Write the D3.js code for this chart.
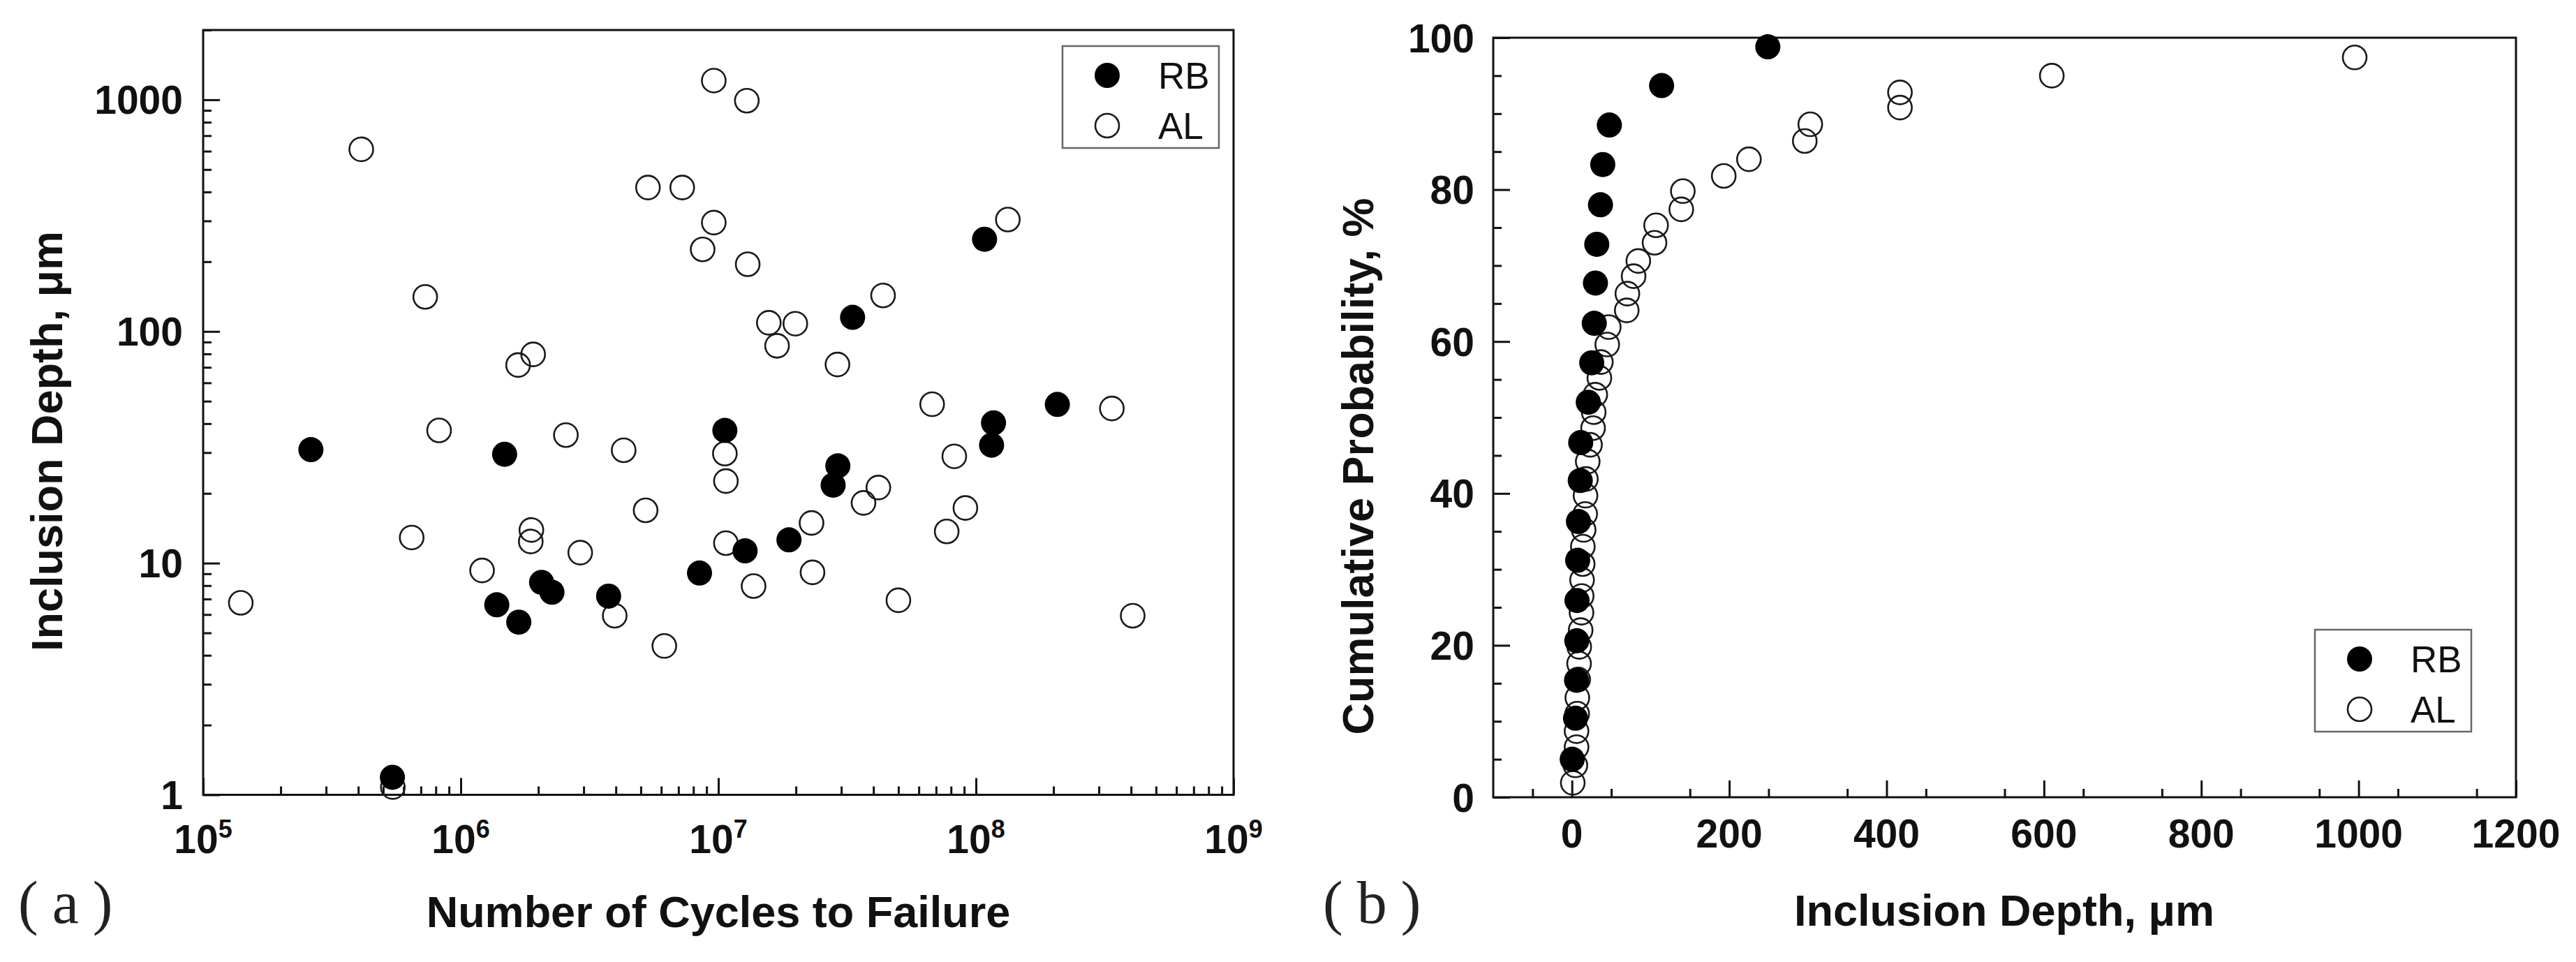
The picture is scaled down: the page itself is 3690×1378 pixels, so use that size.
<!DOCTYPE html>
<html>
<head>
<meta charset="utf-8">
<script src="https://cdn.jsdelivr.net/npm/d3@7"></script>
<style>
  body { margin: 0; background: #fff; }
  svg { display: block; font-family: "Liberation Sans", Arial, sans-serif; }
</style>
</head>
<body>
<svg id="chart" width="3690" height="1378"></svg>
<script>
// panel (a): inclusion depth (um) against cycles to failure
const rbCycles = [2.62e5, 5.43e5, 1.38e6, 1.48e6, 1.68e6, 2.06e6, 2.26e6, 3.75e6, 8.45e6, 1.06e7,
                  1.27e7, 1.88e7, 2.79e7, 2.91e7, 3.32e7, 1.08e8, 1.15e8, 1.17e8, 2.07e8];
const rbDepth = [30.9, 1.19, 6.61, 29.5, 5.56, 8.26, 7.49, 7.2, 9.06, 37.4,
                 11.3, 12.6, 21.7, 26.3, 115, 250, 32.3, 40.3, 48.4];

const alCycles = [1.40e5, 4.11e5, 5.45e5, 6.45e5, 7.28e5, 8.24e5, 1.21e6, 1.67e6, 1.87e6, 1.88e6,
                  1.91e6, 2.56e6, 2.91e6, 3.96e6, 4.29e6, 5.22e6, 5.33e6, 6.17e6, 7.24e6, 8.69e6,
                  9.6e6, 9.6e6, 1.06e7, 1.07e7, 1.07e7, 1.29e7, 1.30e7, 1.37e7, 1.57e7, 1.69e7,
                  1.99e7, 2.30e7, 2.32e7, 2.90e7, 3.66e7, 4.18e7, 4.36e7, 5.0e7, 6.76e7, 7.7e7,
                  8.24e7, 9.1e7, 1.33e8, 3.37e8, 4.06e8];
const alDepth = [6.74, 611, 1.08, 12.9, 141, 37.4, 9.3, 71.6, 12.4, 13.9,
                 79.6, 35.7, 11.1, 5.93, 30.7, 16.9, 418, 4.39, 418, 226,
                 1210, 295, 29.7, 22.6, 12.2, 991, 195, 7.96, 109, 86.7,
                 108, 14.9, 9.12, 72, 18.2, 21.2, 143, 6.91, 48.5, 13.7,
                 28.9, 17.3, 304, 46.5, 5.93];

// panel (b): cumulative probability (%) against inclusion depth (um)
const rbCumDepth = [0.4, 4.6, 5.9, 6.2, 6.5, 7.3, 8.3, 10.6, 11.2, 20.8,
                    25.2, 28.4, 29.9, 31.6, 36.3, 39.2, 47.6, 114, 249];
const rbCumProb = [5.0, 10.4, 15.4, 20.6, 25.9, 31.2, 36.3, 41.7, 46.7, 52.0,
                   57.2, 62.4, 67.7, 72.8, 78.0, 83.3, 88.5, 93.7, 98.8];

const alCumDepth = [1.1, 4.4, 5.9, 5.9, 6.7, 6.9, 8.0, 9.1, 9.3, 11.1,
                    12.2, 12.4, 12.9, 13.7, 13.9, 14.9, 16.9, 17.3, 17.8, 20.1,
                    23, 26.9, 27.7, 29.7, 34.9, 36.8, 44.9, 46.8, 69.7, 70.5,
                    78.4, 84.4, 105, 107, 139, 141, 193, 225, 296, 303,
                    417, 417, 610, 995];
const alCumProb = [1.9, 4.2, 6.6, 8.7, 11.0, 13.1, 15.5, 17.6, 19.8, 22.0,
                   24.3, 26.5, 28.6, 30.7, 33.0, 35.2, 37.3, 39.7, 41.9, 44.2,
                   46.4, 48.6, 50.7, 53.0, 55.2, 57.3, 59.6, 61.9, 64.1, 66.3,
                   68.6, 70.6, 73.0, 75.3, 77.4, 79.8, 81.8, 84.0, 86.4, 88.6,
                   90.8, 92.8, 95.0, 97.4];

// tick labels
const yTicksA = [1, 10, 100, 1000];
const xExpA = [5, 6, 7, 8, 9];
const xTicksB = [0, 200, 400, 600, 800, 1000, 1200];
const yTicksB = [0, 20, 40, 60, 80, 100];
const seriesNames = ["RB", "AL"];

const svg = d3.select("#chart");
svg.append("rect").attr("width", 3690).attr("height", 1378).attr("fill", "#fff");

const tickFont = 57, titleFont = 63;

// scales
const xA = d3.scaleLog().domain([1e5, 1e9]).range([291, 1767]);
const yA = d3.scaleLog().domain([1, 2000]).range([1138.5, 43]);
const xB = d3.scaleLinear().domain([-100, 1200]).range([2139, 3604]);
const yB = d3.scaleLinear().domain([0, 100]).range([1142, 54]);

// draws inward ticks on left and bottom, plus the box
function drawFrame(x, y, xMajor, xMinor, yMajor, yMinor) {
    const [x0, x1] = x.range();
    const [y0, y1] = y.range();
    const g = svg.append("g");

    const axes = [
        [d3.axisBottom(x).tickValues(xMinor).tickSize(-12), `translate(0,${y0})`],
        [d3.axisBottom(x).tickValues(xMajor).tickSize(-24), `translate(0,${y0})`],
        [d3.axisLeft(y).tickValues(yMinor).tickSize(-12), `translate(${x0},0)`],
        [d3.axisLeft(y).tickValues(yMajor).tickSize(-24), `translate(${x0},0)`]
    ];
    axes.forEach(([ax, tr]) => {
        const a = g.append("g").attr("transform", tr).call(ax.tickFormat(""));
        a.select(".domain").remove();
        a.selectAll("line").attr("stroke", "#111").attr("stroke-width", 3);
    });

    g.append("rect")
        .attr("x", x0).attr("y", y1)
        .attr("width", x1 - x0).attr("height", y0 - y1)
        .attr("fill", "none").attr("stroke", "#111").attr("stroke-width", 3);
}

function drawPoints(x, y, xs, ys, filled) {
    const pts = d3.zip(xs, ys);
    svg.append("g").selectAll("circle")
        .data(pts)
        .join("circle")
        .attr("cx", d => x(d[0]))
        .attr("cy", d => y(d[1]))
        .attr("r", filled ? 18 : 17)
        .attr("fill", filled ? "#000" : "none")
        .attr("stroke", filled ? "none" : "#1a1a1a")
        .attr("stroke-width", 2.6);
}

function drawLegend(left, top) {
    const g = svg.append("g").attr("transform", `translate(${left},${top})`);
    g.append("rect").attr("width", 224).attr("height", 146)
        .attr("fill", "#fff").attr("stroke", "#666").attr("stroke-width", 2.5);
    seriesNames.forEach((name, i) => {
        const cy = 42 + i * 72;
        g.append("circle").attr("cx", 64).attr("cy", cy)
            .attr("r", i === 0 ? 18 : 17)
            .attr("fill", i === 0 ? "#000" : "none")
            .attr("stroke", i === 0 ? "none" : "#1a1a1a")
            .attr("stroke-width", 2.6);
        g.append("text").attr("x", 137).attr("y", cy + 19)
            .attr("font-size", 53).attr("fill", "#111").text(name);
    });
}

// ---------- panel (a) ----------
const xTicksAllA = xA.ticks();
const yTicksAllA = yA.ticks().filter(v => v <= 2000);
const isPow10 = v => Math.abs(Math.log10(v) - Math.round(Math.log10(v))) < 1e-9;

drawFrame(xA, yA,
    xTicksAllA.filter(isPow10), xTicksAllA.filter(v => !isPow10(v)),
    yTicksAllA.filter(isPow10), yTicksAllA.filter(v => !isPow10(v)));

drawPoints(xA, yA, alCycles, alDepth, false);
drawPoints(xA, yA, rbCycles, rbDepth, true);

svg.append("g").selectAll("text")
    .data(yTicksA)
    .join("text")
    .attr("x", 291 - 29)
    .attr("y", d => yA(d) + tickFont * 0.36)
    .attr("text-anchor", "end")
    .attr("font-size", tickFont).attr("font-weight", "bold").attr("fill", "#111")
    .text(d => d);

const xLabA = svg.append("g").selectAll("text")
    .data(xExpA)
    .join("text")
    .attr("x", d => xA(Math.pow(10, d)))
    .attr("y", 1222)
    .attr("text-anchor", "middle")
    .attr("font-size", tickFont).attr("font-weight", "bold").attr("fill", "#111");
xLabA.append("tspan").text("10");
xLabA.append("tspan").attr("dy", -22).attr("font-size", 36).text(d => d);

svg.append("text")
    .attr("transform", "translate(89,632) rotate(-90)")
    .attr("text-anchor", "middle")
    .attr("font-size", titleFont).attr("font-weight", "bold").attr("fill", "#111")
    .text("Inclusion Depth, μm");

svg.append("text")
    .attr("x", 1029).attr("y", 1328)
    .attr("text-anchor", "middle")
    .attr("font-size", titleFont).attr("font-weight", "bold").attr("fill", "#111")
    .text("Number of Cycles to Failure");

drawLegend(1522, 66);

// ---------- panel (b) ----------
drawFrame(xB, yB,
    xTicksB, d3.range(-50, 1200, 100),
    yTicksB, d3.range(5, 100, 5).filter(v => v % 20 !== 0));

drawPoints(xB, yB, alCumDepth, alCumProb, false);
drawPoints(xB, yB, rbCumDepth, rbCumProb, true);

svg.append("g").selectAll("text")
    .data(yTicksB)
    .join("text")
    .attr("x", 2139 - 27)
    .attr("y", d => yB(d) + tickFont * 0.36)
    .attr("text-anchor", "end")
    .attr("font-size", tickFont).attr("font-weight", "bold").attr("fill", "#111")
    .text(d => d);

svg.append("g").selectAll("text")
    .data(xTicksB)
    .join("text")
    .attr("x", d => xB(d))
    .attr("y", 1214)
    .attr("text-anchor", "middle")
    .attr("font-size", tickFont).attr("font-weight", "bold").attr("fill", "#111")
    .text(d => d);

svg.append("text")
    .attr("transform", "translate(1967,668) rotate(-90)")
    .attr("text-anchor", "middle")
    .attr("font-size", titleFont).attr("font-weight", "bold").attr("fill", "#111")
    .text("Cumulative Probability, %");

svg.append("text")
    .attr("x", 2871).attr("y", 1326)
    .attr("text-anchor", "middle")
    .attr("font-size", titleFont).attr("font-weight", "bold").attr("fill", "#111")
    .text("Inclusion Depth, μm");

drawLegend(3316, 902);

// panel letters
[["(a)", 26], ["(b)", 1895]].forEach(([t, x]) => {
    svg.append("text")
        .attr("x", x).attr("y", 1322)
        .attr("font-family", "'Liberation Serif', 'DejaVu Serif', serif")
        .attr("font-size", 86).attr("letter-spacing", 20).attr("fill", "#222")
        .text(t);
});
</script>
</body>
</html>
